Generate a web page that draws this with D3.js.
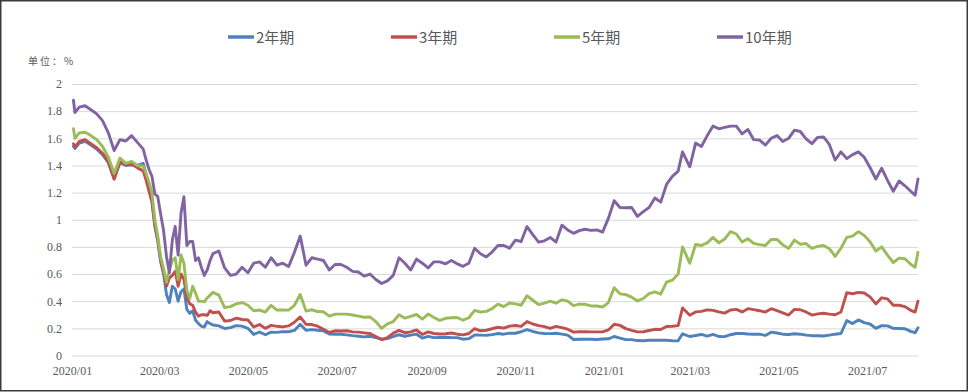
<!DOCTYPE html>
<html>
<head>
<meta charset="utf-8">
<script src="https://cdn.jsdelivr.net/npm/d3@7/dist/d3.min.js"></script>
<style>
  html, body { margin: 0; padding: 0; background: #fff; }
  svg { display: block; }
</style>
</head>
<body>
<svg class="chart" width="969" height="392"></svg>
<script>
// series names shown in the legend
const seriesNames = ['2年期', '3年期', '5年期', '10年期'];

// observation dates (shared by all four series)
const dates = [
  '2020-01-02', '2020-01-03', '2020-01-06', '2020-01-10', '2020-01-14', '2020-01-18', '2020-01-22', '2020-01-26',
  '2020-01-30', '2020-02-03', '2020-02-07', '2020-02-11', '2020-02-15', '2020-02-19',
  '2020-02-21', '2020-02-23', '2020-02-25', '2020-02-27', '2020-02-29', '2020-03-02', '2020-03-04', '2020-03-06',
  '2020-03-08', '2020-03-10', '2020-03-12', '2020-03-14', '2020-03-16', '2020-03-18', '2020-03-20', '2020-03-22',
  '2020-03-24', '2020-03-26', '2020-03-28', '2020-03-30', '2020-04-01', '2020-04-03', '2020-04-05', '2020-04-07',
  '2020-04-11', '2020-04-15', '2020-04-19', '2020-04-23', '2020-04-27', '2020-05-01', '2020-05-05', '2020-05-09',
  '2020-05-13', '2020-05-17', '2020-05-21', '2020-05-25', '2020-05-29', '2020-06-02', '2020-06-06', '2020-06-10',
  '2020-06-14', '2020-06-18', '2020-06-22', '2020-06-26', '2020-06-30', '2020-07-04', '2020-07-08', '2020-07-12',
  '2020-07-16', '2020-07-20', '2020-07-24', '2020-07-28', '2020-08-01', '2020-08-05', '2020-08-09', '2020-08-13',
  '2020-08-17', '2020-08-21', '2020-08-25', '2020-08-29', '2020-09-02', '2020-09-06', '2020-09-10', '2020-09-14',
  '2020-09-18', '2020-09-22', '2020-09-26', '2020-09-30', '2020-10-04', '2020-10-08', '2020-10-12', '2020-10-16',
  '2020-10-20', '2020-10-24', '2020-10-28', '2020-11-01', '2020-11-05', '2020-11-09', '2020-11-13', '2020-11-17',
  '2020-11-21', '2020-11-25', '2020-11-29', '2020-12-03', '2020-12-07', '2020-12-11',
  '2020-12-15', '2020-12-19', '2020-12-23', '2020-12-27', '2020-12-31', '2021-01-04', '2021-01-08', '2021-01-12',
  '2021-01-16', '2021-01-20', '2021-01-24', '2021-01-28', '2021-02-01', '2021-02-05', '2021-02-09', '2021-02-13',
  '2021-02-17', '2021-02-21', '2021-02-24',
  '2021-03-01', '2021-03-05', '2021-03-09', '2021-03-13', '2021-03-17', '2021-03-21', '2021-03-25', '2021-03-29',
  '2021-04-02', '2021-04-06', '2021-04-10', '2021-04-14', '2021-04-18', '2021-04-22', '2021-04-26', '2021-04-30',
  '2021-05-04', '2021-05-08', '2021-05-12', '2021-05-16', '2021-05-20', '2021-05-24', '2021-05-28', '2021-06-01',
  '2021-06-05', '2021-06-09', '2021-06-13', '2021-06-17', '2021-06-21', '2021-06-25', '2021-06-29', '2021-07-03',
  '2021-07-07', '2021-07-11', '2021-07-15', '2021-07-19', '2021-07-23', '2021-07-27', '2021-07-31',
  '2021-08-03', '2021-08-05',
];

// yields, %
const yield2y = [
  1.54, 1.525, 1.565, 1.578, 1.55, 1.52, 1.48, 1.42, 1.30, 1.42, 1.40, 1.405, 1.40, 1.415,
  1.33, 1.22, 1.13, 0.95, 0.84, 0.69, 0.60, 0.45, 0.39, 0.51, 0.49, 0.40, 0.47, 0.49, 0.34, 0.31,
  0.33, 0.26, 0.235, 0.215, 0.21, 0.25, 0.235, 0.225,
  0.218, 0.199, 0.205, 0.22, 0.216, 0.20, 0.155, 0.173, 0.153, 0.172, 0.17, 0.176, 0.175, 0.185,
  0.23, 0.186, 0.191, 0.186, 0.181, 0.158, 0.157, 0.157, 0.152, 0.146, 0.142, 0.137, 0.142, 0.131,
  0.12, 0.125, 0.14, 0.153, 0.142, 0.15, 0.157, 0.128, 0.141, 0.132, 0.133, 0.134, 0.132, 0.132,
  0.12, 0.124, 0.151, 0.15, 0.148, 0.154, 0.162, 0.157, 0.165, 0.164, 0.175, 0.19, 0.177, 0.167,
  0.162, 0.161, 0.164, 0.157, 0.15, 0.118,
  0.12, 0.12, 0.12, 0.118, 0.122, 0.123, 0.14, 0.128, 0.117, 0.117, 0.11, 0.109, 0.112, 0.112,
  0.112, 0.112, 0.109, 0.108, 0.16,
  0.14, 0.147, 0.155, 0.143, 0.155, 0.14, 0.139, 0.153, 0.162, 0.162, 0.158, 0.157, 0.157, 0.148,
  0.172, 0.166, 0.157, 0.155, 0.16, 0.157, 0.15, 0.146, 0.146, 0.144, 0.15, 0.157, 0.162, 0.257,
  0.235, 0.262, 0.242, 0.232, 0.20, 0.22, 0.218, 0.20, 0.199, 0.197, 0.178,
  0.168, 0.205,
];

const yield3y = [
  1.56, 1.535, 1.577, 1.59, 1.56, 1.53, 1.49, 1.43, 1.30, 1.43, 1.408, 1.41, 1.382, 1.36,
  1.29, 1.21, 1.14, 0.96, 0.86, 0.70, 0.62, 0.51, 0.57, 0.59, 0.62, 0.51, 0.60, 0.56, 0.43, 0.38,
  0.37, 0.32, 0.29, 0.30, 0.30, 0.295, 0.33, 0.315,
  0.32, 0.253, 0.258, 0.275, 0.265, 0.262, 0.21, 0.228, 0.20, 0.222, 0.215, 0.211, 0.218, 0.245,
  0.284, 0.23, 0.228, 0.216, 0.194, 0.17, 0.182, 0.181, 0.182, 0.174, 0.172, 0.167, 0.162, 0.14,
  0.117, 0.132, 0.165, 0.185, 0.168, 0.174, 0.188, 0.155, 0.174, 0.162, 0.158, 0.16, 0.166, 0.157,
  0.152, 0.162, 0.198, 0.182, 0.186, 0.197, 0.208, 0.202, 0.216, 0.221, 0.215, 0.25, 0.232, 0.22,
  0.213, 0.199, 0.214, 0.205, 0.194, 0.172,
  0.175, 0.175, 0.174, 0.174, 0.174, 0.188, 0.23, 0.222, 0.198, 0.185, 0.174, 0.175, 0.184, 0.193,
  0.191, 0.214, 0.215, 0.22, 0.35,
  0.296, 0.321, 0.325, 0.336, 0.332, 0.321, 0.312, 0.335, 0.34, 0.321, 0.345, 0.338, 0.33, 0.32,
  0.345, 0.33, 0.314, 0.298, 0.34, 0.337, 0.321, 0.298, 0.307, 0.311, 0.305, 0.30, 0.32, 0.462,
  0.455, 0.465, 0.46, 0.432, 0.38, 0.425, 0.417, 0.37, 0.37, 0.36, 0.333,
  0.32, 0.40,
];

const yield5y = [
  1.67, 1.60, 1.64, 1.645, 1.62, 1.59, 1.54, 1.46, 1.34, 1.455, 1.415, 1.43, 1.40, 1.395,
  1.34, 1.275, 1.20, 1.00, 0.88, 0.725, 0.64, 0.54, 0.63, 0.70, 0.72, 0.56, 0.74, 0.68, 0.48, 0.42,
  0.51, 0.46, 0.40, 0.40, 0.395, 0.424, 0.445, 0.465,
  0.445, 0.353, 0.36, 0.38, 0.39, 0.37, 0.33, 0.335, 0.32, 0.37, 0.335, 0.336, 0.334, 0.37,
  0.45, 0.327, 0.337, 0.324, 0.322, 0.29, 0.305, 0.305, 0.305, 0.298, 0.29, 0.282, 0.284, 0.25,
  0.20, 0.233, 0.25, 0.30, 0.275, 0.289, 0.302, 0.268, 0.305, 0.28, 0.258, 0.274, 0.278, 0.28,
  0.26, 0.278, 0.333, 0.32, 0.325, 0.345, 0.378, 0.36, 0.387, 0.38, 0.37, 0.44, 0.407, 0.375,
  0.386, 0.40, 0.385, 0.41, 0.40, 0.368,
  0.378, 0.377, 0.365, 0.365, 0.357, 0.39, 0.50, 0.454, 0.448, 0.43, 0.402, 0.42, 0.456, 0.468,
  0.452, 0.54, 0.555, 0.60, 0.80,
  0.68, 0.818, 0.81, 0.83, 0.87, 0.83, 0.858, 0.912, 0.895, 0.836, 0.86, 0.826, 0.817, 0.81,
  0.855, 0.855, 0.815, 0.788, 0.85, 0.82, 0.825, 0.79, 0.804, 0.81, 0.787, 0.73, 0.79, 0.87,
  0.88, 0.912, 0.885, 0.838, 0.77, 0.80, 0.74, 0.685, 0.717, 0.713, 0.672,
  0.65, 0.76,
];

const yield10y = [
  1.88, 1.79, 1.83, 1.84, 1.81, 1.78, 1.73, 1.64, 1.51, 1.59, 1.58, 1.62, 1.57, 1.52,
  1.44, 1.37, 1.32, 1.19, 1.17, 1.04, 0.92, 0.73, 0.61, 0.85, 0.95, 0.74, 1.05, 1.17, 0.81, 0.84,
  0.84, 0.70, 0.72, 0.65, 0.59, 0.63, 0.70, 0.75,
  0.77, 0.645, 0.59, 0.60, 0.65, 0.61, 0.68, 0.69, 0.65, 0.72, 0.665, 0.68, 0.655, 0.76,
  0.88, 0.665, 0.72, 0.71, 0.70, 0.63, 0.67, 0.67, 0.65, 0.62, 0.615, 0.585, 0.60, 0.56,
  0.53, 0.55, 0.59, 0.72, 0.68, 0.63, 0.71, 0.68, 0.645, 0.69, 0.69, 0.675, 0.70, 0.675,
  0.657, 0.68, 0.79, 0.75, 0.726, 0.762, 0.81, 0.81, 0.79, 0.85, 0.84, 0.95, 0.89, 0.835,
  0.845, 0.87, 0.836, 0.96, 0.925, 0.90,
  0.92, 0.93, 0.922, 0.925, 0.909, 1.01, 1.14, 1.09, 1.088, 1.09, 1.025, 1.06, 1.09, 1.16,
  1.13, 1.26, 1.32, 1.358, 1.50,
  1.39, 1.565, 1.54, 1.62, 1.69, 1.67, 1.68, 1.69, 1.69, 1.632, 1.665, 1.59, 1.587, 1.55,
  1.60, 1.62, 1.577, 1.60, 1.66, 1.65, 1.596, 1.56, 1.607, 1.61, 1.555, 1.44, 1.50, 1.45,
  1.48, 1.50, 1.46, 1.385, 1.30, 1.38, 1.29, 1.21, 1.286, 1.25, 1.21,
  1.18, 1.30,
];

// axis ticks
const yTicks = [0, 0.2, 0.4, 0.6, 0.8, 1, 1.2, 1.4, 1.6, 1.8, 2];
const xTicks = ['2020-01-01', '2020-03-01', '2020-05-01', '2020-07-01', '2020-09-01', '2020-11-01',
  '2021-01-01', '2021-03-01', '2021-05-01', '2021-07-01'];
const xDomain = ['2020-01-01', '2021-08-05'];

const colors = ['#4F81BD', '#C0504D', '#9BBB59', '#8064A2'];
const parseDate = d3.timeParse('%Y-%m-%d');

const margin = { top: 84, right: 51, bottom: 36.5, left: 72 };
const width = 969;
const height = 392;

const svg = d3.select('svg.chart');

const x = d3.scaleTime()
  .domain(xDomain.map(parseDate))
  .range([margin.left, width - margin.right]);

const y = d3.scaleLinear()
  .domain([0, 2])
  .range([height - margin.bottom, margin.top]);

// gridlines + y labels
const yAxis = svg.append('g')
  .attr('transform', `translate(${margin.left},0)`)
  .call(d3.axisLeft(y)
    .tickValues(yTicks)
    .tickFormat(d3.format('~g'))
    .tickSize(-(width - margin.left - margin.right))
    .tickPadding(10));

yAxis.select('.domain').remove();
yAxis.selectAll('.tick line')
  .attr('stroke', '#d9d9d9')
  .attr('stroke-width', 1);
yAxis.selectAll('.tick text')
  .attr('fill', '#595959')
  .style('font-family', '"Liberation Serif", "Times New Roman", serif')
  .style('font-size', '12px');

// x labels
const xAxis = svg.append('g')
  .attr('transform', `translate(0,${height - margin.bottom})`)
  .call(d3.axisBottom(x)
    .tickValues(xTicks.map(parseDate))
    .tickFormat(d3.timeFormat('%Y/%m'))
    .tickSize(0)
    .tickPadding(10.5));

xAxis.select('.domain').remove();
xAxis.selectAll('.tick text')
  .attr('fill', '#595959')
  .style('font-family', '"Liberation Serif", "Times New Roman", serif')
  .style('font-size', '12px');

// unit label
svg.append('text')
  .attr('x', 28)
  .attr('y', 64.5)
  .attr('fill', '#595959')
  .style('font-family', '"Noto Sans CJK SC", sans-serif')
  .style('font-size', '10px')
  .style('letter-spacing', '2px')
  .text('单位：%');

// lines
const series = [yield2y, yield3y, yield5y, yield10y].map((values, i) => ({
  name: seriesNames[i],
  color: colors[i],
  points: values.map((v, j) => ({ date: parseDate(dates[j]), value: v })),
}));

const line = d3.line()
  .x(d => x(d.date))
  .y(d => y(d.value));

svg.append('g')
  .selectAll('path')
  .data(series)
  .enter()
  .append('path')
  .attr('d', d => line(d.points))
  .attr('fill', 'none')
  .attr('stroke', d => d.color)
  .attr('stroke-width', 2.9)
  .attr('stroke-linejoin', 'round')
  .attr('stroke-linecap', 'round');

// legend
const legend = svg.append('g')
  .selectAll('g')
  .data(series)
  .enter()
  .append('g')
  .attr('transform', (d, i) => `translate(${228 + i * 163},37)`);

legend.append('line')
  .attr('x1', 0)
  .attr('x2', 26)
  .attr('stroke', d => d.color)
  .attr('stroke-width', 3.5);

legend.append('text')
  .attr('x', 28)
  .attr('y', 5.5)
  .attr('fill', '#595959')
  .style('font-family', '"Noto Sans CJK SC", sans-serif')
  .style('font-size', '15px')
  .text(d => d.name);

// outer frame
svg.append('rect')
  .attr('x', 0.75)
  .attr('y', 0.75)
  .attr('width', 966.5)
  .attr('height', 390)
  .attr('fill', 'none')
  .attr('stroke', '#3a3a3a')
  .attr('stroke-width', 1.5);
</script>
</body>
</html>
